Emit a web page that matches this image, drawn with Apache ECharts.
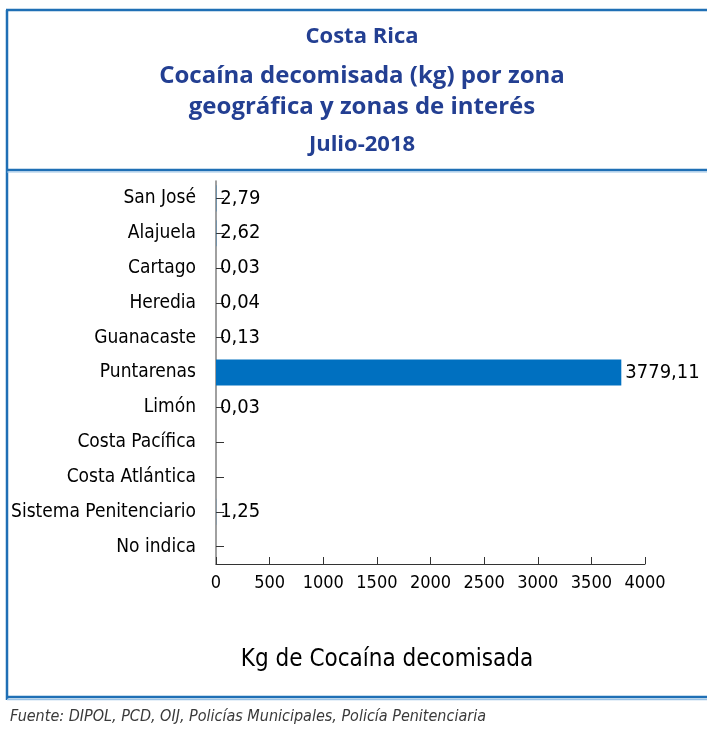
<!DOCTYPE html>
<html><head><meta charset="utf-8">
<script src="https://cdn.jsdelivr.net/npm/echarts@6/dist/echarts.min.js"></script>
<style>html,body{margin:0;padding:0;background:#fff}#c{width:707px;height:734px}</style>
</head><body><div id="c"></div>
<script>
const categories = ["San José","Alajuela","Cartago","Heredia","Guanacaste","Puntarenas","Limón","Costa Pacífica","Costa Atlántica","Sistema Penitenciario","No indica"];
const values = [2.79, 2.62, 0.03, 0.04, 0.13, 3779.11, 0.03, null, null, 1.25, null];
const xTicks = [0, 500, 1000, 1500, 2000, 2500, 3000, 3500, 4000];
const titleLines = ["Costa Rica", "Cocaína decomisada (kg) por zona", "geográfica y zonas de interés", "Julio-2018"];
const axisTitle = "Kg de Cocaína decomisada";
const source = "Fuente: DIPOL, PCD, OIJ, Policías Municipales, Policía Penitenciaria";

const FONT = "'Liberation Sans Narrow','Arial Narrow','DejaVu Sans Condensed',sans-serif";
const TFONT = "'Open Sans','Liberation Sans',sans-serif";
const blue = '#1f6fb5';
const titleColor = '#233f92';

const chart = echarts.init(document.getElementById('c'), null, {renderer:'canvas'});
const titleY = [37, 76, 107, 145];
const titleSize = [22, 24, 24, 22];
const graphics = [
  {type:'line', shape:{x1:6,y1:10,x2:707,y2:10}, style:{stroke:blue,lineWidth:2.5}},
  {type:'line', shape:{x1:7,y1:10,x2:7,y2:700}, style:{stroke:blue,lineWidth:2.5}},
  {type:'line', shape:{x1:7,y1:170,x2:707,y2:170}, style:{stroke:blue,lineWidth:2.5}},
  {type:'line', shape:{x1:7,y1:172,x2:707,y2:172}, style:{stroke:'#9cc3e6',lineWidth:1}},
  {type:'line', shape:{x1:7,y1:697,x2:707,y2:697}, style:{stroke:blue,lineWidth:2.5}},
  {type:'line', shape:{x1:7,y1:699.5,x2:707,y2:699.5}, style:{stroke:'#9cc3e6',lineWidth:1.5}},
  {type:'text', left:10, top:709, style:{text:source, font:"italic 16px 'DejaVu Sans Condensed','Open Sans',sans-serif", fill:'#3a3a3a'}},
  {type:'text', x:387, y:660, style:{text:axisTitle, font:"24px "+FONT, fill:'#000', textAlign:'center', textVerticalAlign:'middle'}}
];
titleLines.forEach((t,i)=>{
  graphics.push({type:'text', x:362, y:titleY[i], style:{text:t, font:"bold "+titleSize[i]+"px "+TFONT, fill:titleColor, textAlign:'center', textVerticalAlign:'middle'}});
});

chart.setOption({
  animation:false,
  grid:{left:216, right:62, top:181, bottom:170, containLabel:false},
  xAxis:{
    type:'value', min:0, max:4000, interval:500,
    axisLine:{show:true, lineStyle:{color:'#333', width:1}},
    axisTick:{show:true, inside:true, length:7, lineStyle:{color:'#333'}},
    splitLine:{show:false},
    axisLabel:{color:'#000', fontFamily:FONT, fontSize:18, margin:10,
      formatter:v=> xTicks.includes(v) ? String(v) : ''}
  },
  yAxis:{
    type:'category', data:categories, inverse:true,
    axisLine:{show:true, lineStyle:{color:'#808080', width:1.5}},
    axisTick:{show:true, inside:true, alignWithLabel:true, length:8, lineStyle:{color:'#333'}},
    axisLabel:{color:'#000', fontFamily:FONT, fontSize:19, margin:20}
  },
  series:[{
    type:'bar', data:values, barCategoryGap:'25%',
    itemStyle:{color:'#0070c0'},
    label:{show:true, position:'right', distance:4, color:'#000', fontFamily:FONT, fontSize:20,
      formatter:p=> p.value==null ? '' : p.value.toFixed(2).replace('.',',')}
  }],
  graphic:graphics
});
</script></body></html>
